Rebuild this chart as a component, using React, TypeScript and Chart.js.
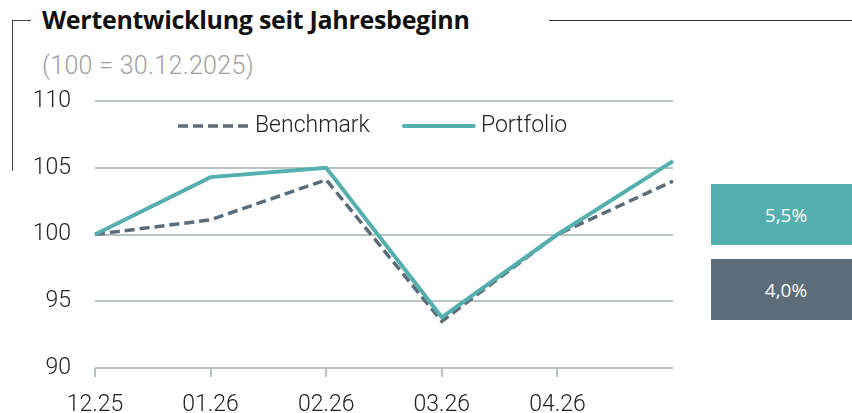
import React, { useEffect, useRef } from "react";
import { Chart, registerables } from "chart.js";

Chart.register(...registerables);

const categories = ["12.25", "01.26", "02.26", "03.26", "04.26", ""];
const benchmark = [100, 101.1, 104.1, 93.5, 100, 104.0];
const portfolio = [100, 104.3, 105.0, 93.8, 100, 105.5];
const yTicks = [90, 95, 100, 105, 110];
const seriesNames = ["Benchmark", "Portfolio"];
const resultLabels = ["5,5%", "4,0%"];
const titleText = "Wertentwicklung seit Jahresbeginn";
const subtitleText = "(100 = 30.12.2025)";

const TEAL = "#56AFAF";
const SLATE = "#5C6C78";
const GRID = "#B8C4C4";
const AXIS_FONT = { family: "Roboto", size: 23, weight: 300 as any };

const legendPlugin = {
  id: "customLegend",
  afterDraw(chart: any) {
    const { ctx, chartArea } = chart;
    ctx.save();
    ctx.font = "300 23px Roboto";
    // y-axis tick labels, positioned through the y scale
    const yScale = chart.scales.y;
    ctx.fillStyle = "#222";
    ctx.textAlign = "right";
    ctx.textBaseline = "middle";
    yTicks.forEach((v) => {
      ctx.fillText(String(v), chartArea.left - 24, yScale.getPixelForValue(v));
    });
    // legend
    const y = chartArea.top + 25;
    ctx.textAlign = "left";
    const lineW = 70;
    const gapText = 7;
    const itemGap = 34;
    let x = chartArea.left + 83;
    chart.data.datasets.forEach((ds: any) => {
      ctx.beginPath();
      ctx.strokeStyle = ds.borderColor;
      ctx.lineWidth = ds.borderWidth;
      ctx.setLineDash(ds.borderDash || []);
      ctx.lineCap = ds.borderDash ? "butt" : "round";
      ctx.moveTo(x, y);
      ctx.lineTo(x + lineW, y);
      ctx.stroke();
      ctx.setLineDash([]);
      x += lineW + gapText;
      ctx.fillStyle = "#222";
      ctx.fillText(ds.label, x, y);
      x += ctx.measureText(ds.label).width + itemGap;
    });
    ctx.restore();
  },
};

export default function App() {
  const ref = useRef<HTMLCanvasElement>(null);
  useEffect(() => {
    if (!ref.current) return;
    const chart = new Chart(ref.current, {
      type: "line",
      data: {
        labels: categories,
        datasets: [
          {
            label: seriesNames[0],
            data: benchmark,
            borderColor: SLATE,
            backgroundColor: SLATE,
            borderWidth: 3.5,
            borderDash: [10, 5],
            pointRadius: 0,
            tension: 0,
            order: 1,
          },
          {
            label: seriesNames[1],
            data: portfolio,
            borderColor: TEAL,
            backgroundColor: TEAL,
            borderWidth: 4,
            pointRadius: 0,
            tension: 0,
            order: 0,
          },
        ],
      },
      options: {
        responsive: false,
        animation: false,
        layout: { padding: { top: 16, right: 27, bottom: 0, left: 0 } },
        plugins: { legend: { display: false }, tooltip: { enabled: false } },
        scales: {
          x: {
            type: "category",
            offset: false,
            grid: {
              drawOnChartArea: false,
              drawTicks: true,
              tickLength: 9,
              lineWidth: 2,
              color: (c: any) => (c.index === categories.length - 1 ? "rgba(0,0,0,0)" : GRID),
            },
            border: { display: false },
            ticks: { color: "#222", font: AXIS_FONT, padding: 14, maxRotation: 0, autoSkip: false },
            afterFit: (s: any) => {
              s.height = 45;
              s.paddingLeft = 0;
              s.paddingRight = 0;
            },
          },
          y: {
            min: 90,
            max: 110,
            afterBuildTicks: (s: any) => {
              s.ticks = yTicks.map((v) => ({ value: v }));
            },
            grid: { color: GRID, lineWidth: 2, drawTicks: false },
            border: { display: false },
            ticks: { display: false },
            afterFit: (s: any) => {
              s.width = 95;
              s.paddingTop = 0;
              s.paddingBottom = 0;
            },
          },
        },
      },
      plugins: [legendPlugin],
    });
    return () => chart.destroy();
  }, []);

  return (
    <div
      style={{
        position: "fixed",
        left: 0,
        top: 0,
        width: 852,
        height: 413,
        overflow: "hidden",
        background: "#fff",
      }}
    >
      <div style={{ position: "absolute", left: 12, top: 20, width: 19, height: 1, background: "#444" }} />
      <div style={{ position: "absolute", left: 12, top: 20, width: 1, height: 151, background: "#444" }} />
      <div style={{ position: "absolute", left: 549, top: 20, width: 303, height: 1, background: "#333" }} />
      <div
        style={{
          position: "absolute",
          left: 42,
          top: 7,
          fontFamily: "'Open Sans', sans-serif",
          fontWeight: 700,
          fontSize: 25,
          lineHeight: "25px",
          color: "#111",
          whiteSpace: "nowrap",
          letterSpacing: -0.3,
        }}
      >
        {titleText}
      </div>
      <div
        style={{
          position: "absolute",
          left: 42,
          top: 53,
          fontFamily: "Roboto, sans-serif",
          fontWeight: 300,
          fontSize: 25,
          lineHeight: "25px",
          color: "#A0A0A0",
          whiteSpace: "nowrap",
          letterSpacing: 0.3,
        }}
      >
        {subtitleText}
      </div>
      <canvas
        ref={ref}
        width={700}
        height={328}
        style={{ position: "absolute", left: 0, top: 85, width: 700, height: 328 }}
      />
      {resultLabels.map((t, i) => (
        <div
          key={t}
          style={{
            position: "absolute",
            left: 711,
            top: i === 0 ? 184 : 259,
            width: 150,
            height: 61,
            background: i === 0 ? TEAL : SLATE,
            color: "#fff",
            fontFamily: "'Open Sans', sans-serif",
            fontSize: 19,
            display: "flex",
            alignItems: "center",
            justifyContent: "center",
          }}
        >
          {t}
        </div>
      ))}
    </div>
  );
}
